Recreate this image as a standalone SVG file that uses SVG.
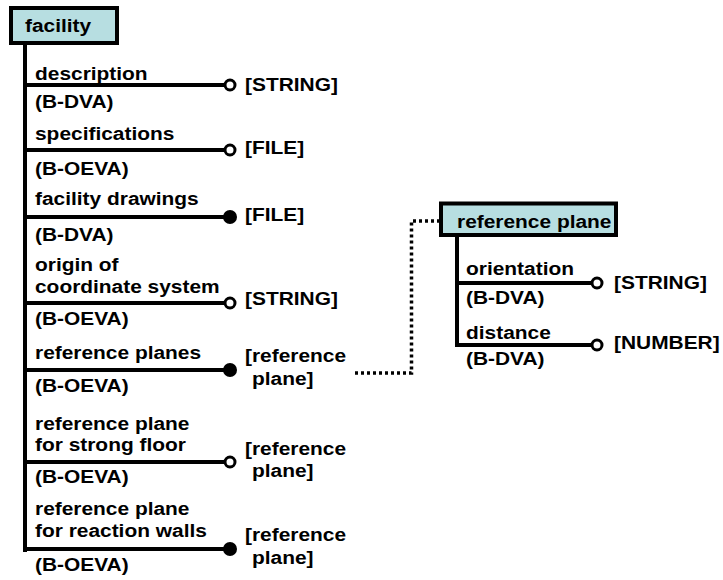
<svg xmlns="http://www.w3.org/2000/svg" width="723" height="580" viewBox="0 0 723 580">
<style>
text{font-family:"Liberation Sans",Arial,sans-serif;font-weight:bold;font-size:19px;fill:#000}
.box{fill:#b7dee1;stroke:#000;stroke-width:4}
.ln{stroke:#000;stroke-width:4;fill:none}
.open{fill:#fff;stroke:#000;stroke-width:3}
.full{fill:#000}
.dot{stroke:#000;stroke-width:3.5;fill:none;stroke-dasharray:3 3}
</style>
<rect width="723" height="580" fill="#fff"/>
<g id="connectors">
<line class="ln" x1="25" y1="44" x2="25" y2="552"/>
<line class="ln" x1="25" y1="85" x2="224" y2="85"/>
<circle class="open" cx="230" cy="85" r="5"/>
<line class="ln" x1="25" y1="150" x2="224" y2="150"/>
<circle class="open" cx="230" cy="150" r="5"/>
<line class="ln" x1="25" y1="217" x2="224" y2="217"/>
<circle class="full" cx="230" cy="217" r="7"/>
<line class="ln" x1="25" y1="303" x2="224" y2="303"/>
<circle class="open" cx="230" cy="303" r="5"/>
<line class="ln" x1="25" y1="370" x2="224" y2="370"/>
<circle class="full" cx="230" cy="370" r="7"/>
<line class="ln" x1="25" y1="462" x2="224" y2="462"/>
<circle class="open" cx="230" cy="462" r="5"/>
<line class="ln" x1="25" y1="549" x2="224" y2="549"/>
<circle class="full" cx="230" cy="549" r="7"/>
<line class="ln" x1="457" y1="236" x2="457" y2="347"/>
<line class="ln" x1="457" y1="283" x2="591" y2="283"/>
<circle class="open" cx="597" cy="283" r="5"/>
<line class="ln" x1="457" y1="345" x2="591" y2="345"/>
<circle class="open" cx="597" cy="345" r="5"/>
<polyline class="dot" points="355,373 411.5,373 411.5,221 439,221"/>
</g>
<g id="labels">
<text transform="translate(35,80) scale(1.1,1)">description</text>
<text transform="translate(35,108) scale(1.1,1)">(B-DVA)</text>
<text transform="translate(35,139.5) scale(1.1,1)">specifications</text>
<text transform="translate(35,174.5) scale(1.1,1)">(B-OEVA)</text>
<text transform="translate(35,205) scale(1.1,1)">facility drawings</text>
<text transform="translate(35,241) scale(1.1,1)">(B-DVA)</text>
<text transform="translate(35,271) scale(1.1,1)">origin of</text>
<text transform="translate(35,293) scale(1.1,1)">coordinate system</text>
<text transform="translate(35,325) scale(1.1,1)">(B-OEVA)</text>
<text transform="translate(35,359) scale(1.1,1)">reference planes</text>
<text transform="translate(35,392) scale(1.1,1)">(B-OEVA)</text>
<text transform="translate(35,429.5) scale(1.1,1)">reference plane</text>
<text transform="translate(35,451) scale(1.1,1)">for strong floor</text>
<text transform="translate(35,483) scale(1.1,1)">(B-OEVA)</text>
<text transform="translate(35,514.5) scale(1.1,1)">reference plane</text>
<text transform="translate(35,537) scale(1.1,1)">for reaction walls</text>
<text transform="translate(35,571) scale(1.1,1)">(B-OEVA)</text>
<text transform="translate(466,275) scale(1.1,1)">orientation</text>
<text transform="translate(466,304) scale(1.1,1)">(B-DVA)</text>
<text transform="translate(466,339) scale(1.1,1)">distance</text>
<text transform="translate(466,365) scale(1.1,1)">(B-DVA)</text>
</g>
<g id="types">
<text transform="translate(245,91) scale(1.1,1)">[STRING]</text>
<text transform="translate(245,154) scale(1.1,1)">[FILE]</text>
<text transform="translate(245,220.5) scale(1.1,1)">[FILE]</text>
<text transform="translate(245,305) scale(1.1,1)">[STRING]</text>
<text transform="translate(245,362) scale(1.1,1)">[reference</text>
<text transform="translate(252,384.5) scale(1.1,1)">plane]</text>
<text transform="translate(245,455) scale(1.1,1)">[reference</text>
<text transform="translate(252,477) scale(1.1,1)">plane]</text>
<text transform="translate(245,541) scale(1.1,1)">[reference</text>
<text transform="translate(252,564) scale(1.1,1)">plane]</text>
<text transform="translate(614,289) scale(1.1,1)">[STRING]</text>
<text transform="translate(614,349) scale(1.1,1)">[NUMBER]</text>
</g>
<g id="facility">
<rect class="box" x="11" y="8" width="106" height="35"/>
<text transform="translate(25,32) scale(1.1,1)">facility</text>
</g>
<g id="reference-plane">
<rect class="box" x="441" y="203.5" width="175" height="31.5"/>
<text transform="translate(457,228) scale(1.1,1)">reference plane</text>
</g>
</svg>
